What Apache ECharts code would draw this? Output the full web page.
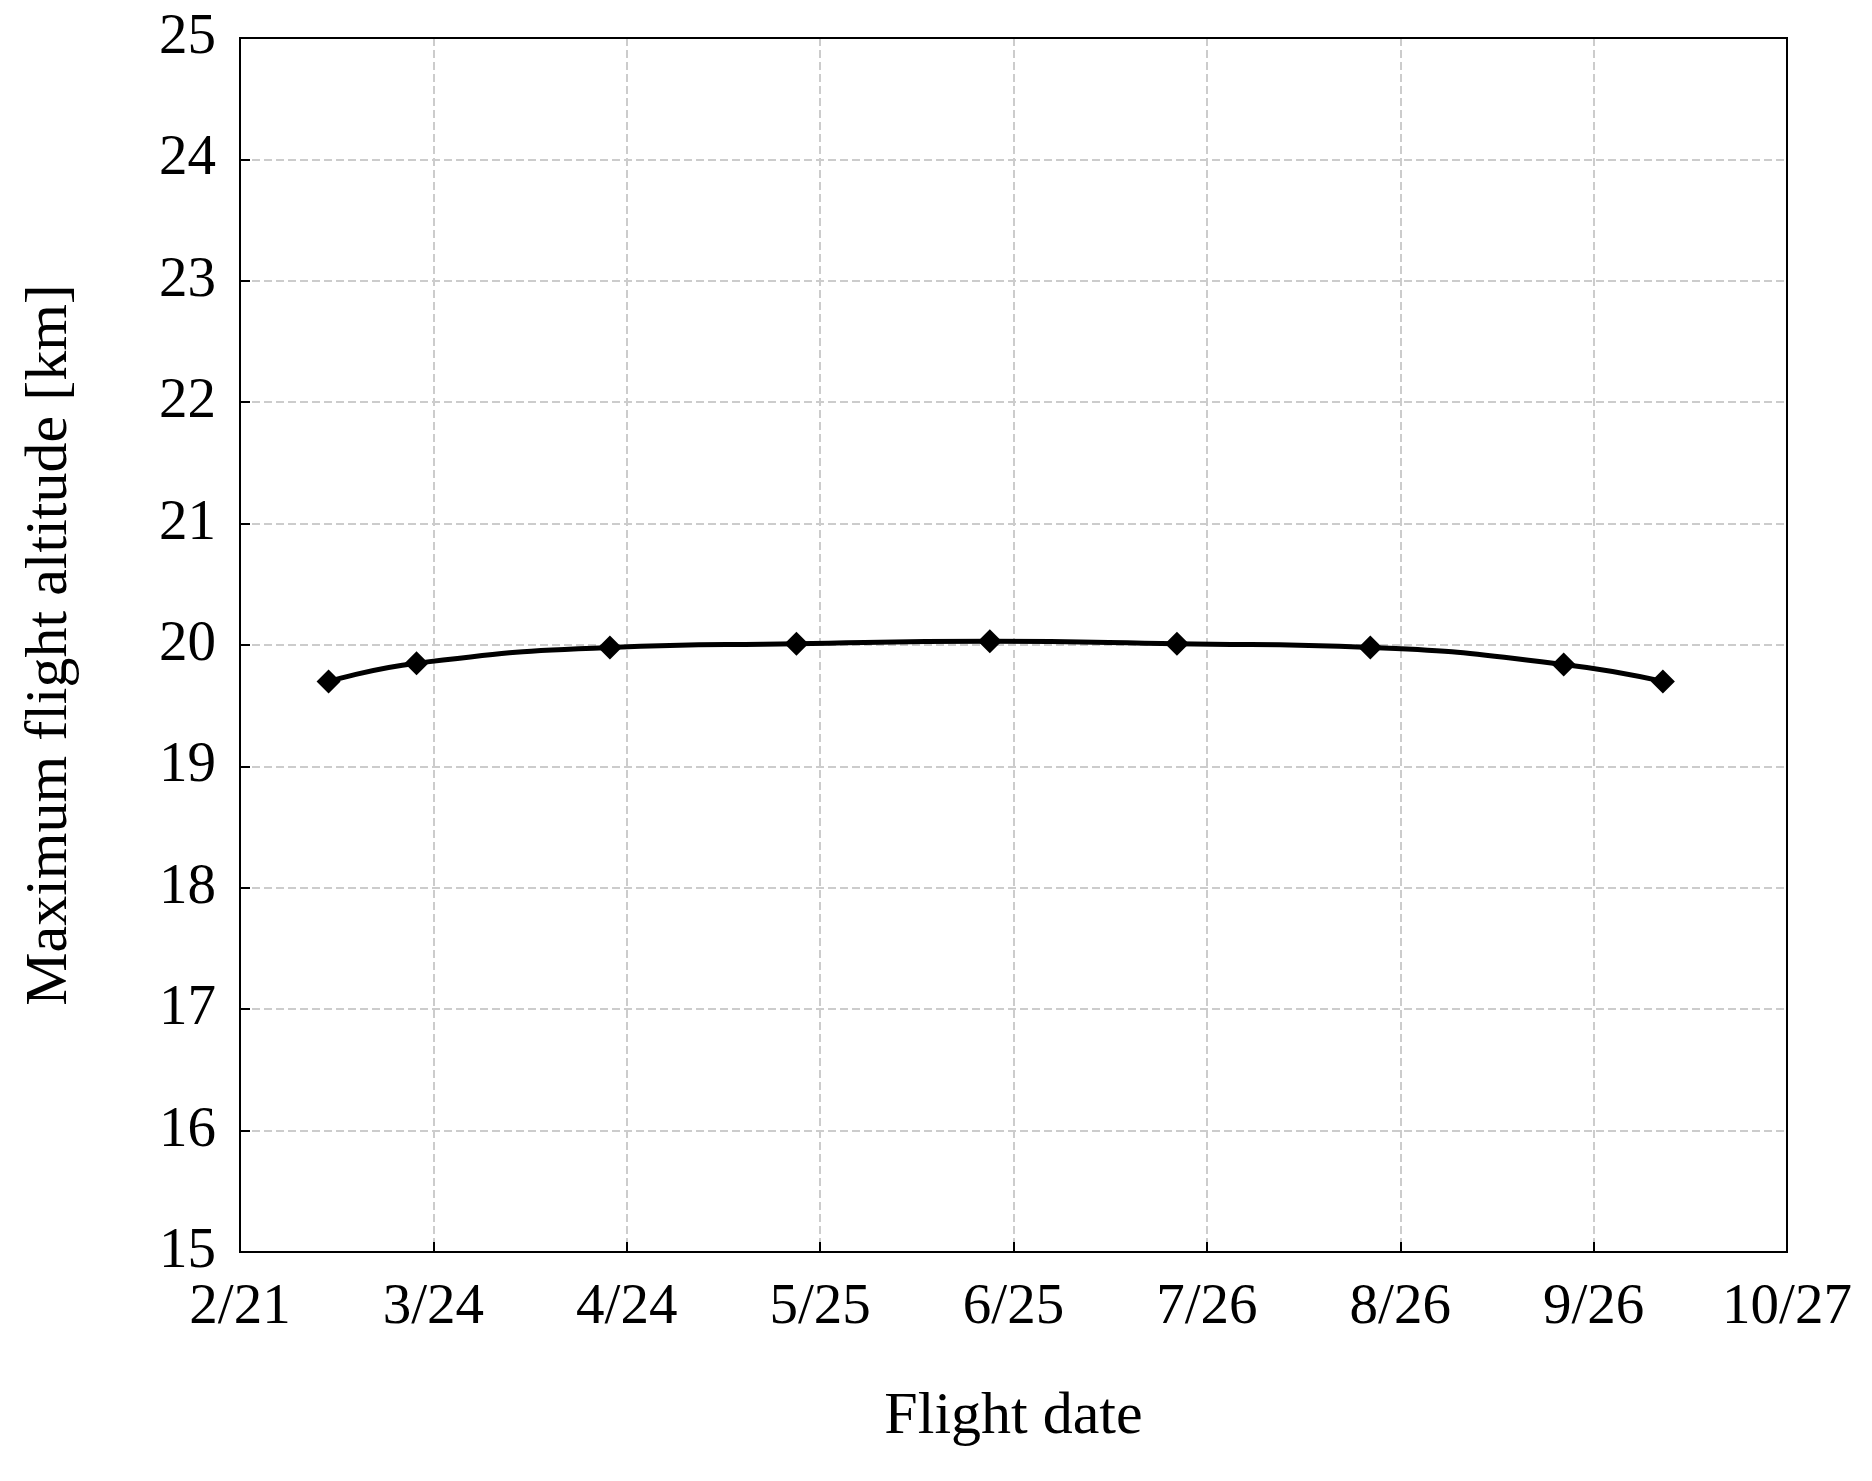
<!DOCTYPE html>
<html><head><meta charset="utf-8">
<script src="https://cdn.jsdelivr.net/npm/echarts@6/dist/echarts.min.js"></script>
<style>html,body{margin:0;padding:0;background:#fff}#c{width:1872px;height:1481px}</style>
</head><body><div id="c"></div>
<script>
// x values: days after 2/21
const xDays = [14.2, 28.3, 59.3, 89.2, 120.2, 150.2, 181.2, 212.2, 228.1];
const altitude = [19.7, 19.85, 19.98, 20.01, 20.03, 20.01, 19.98, 19.84, 19.7];
const xTickLabels = ['2/21','3/24','4/24','5/25','6/25','7/26','8/26','9/26','10/27'];
const font = 'Liberation Serif';
const chart = echarts.init(document.getElementById('c'));
chart.setOption({
  animation:false,
  grid:{left:240,right:85,top:38,bottom:229},
  xAxis:{type:'value',min:0,max:248,interval:31,name:'Flight date',nameLocation:'middle',nameGap:135,
    nameTextStyle:{fontFamily:font,fontSize:60,color:'#000'},
    axisLine:{show:true,lineStyle:{color:'#000',width:2}},
    axisTick:{show:true,inside:true,length:10,lineStyle:{color:'#000',width:2}},
    axisLabel:{fontFamily:font,fontSize:57,color:'#000',margin:28,formatter:v=>xTickLabels[Math.round(v/31)]},
    splitLine:{show:true,lineStyle:{color:'#ccc',type:'dashed',width:2}}},
  yAxis:{type:'value',min:15,max:25,interval:1,name:'Maximum flight altitude [km]',nameLocation:'middle',nameGap:160,
    nameTextStyle:{fontFamily:font,fontSize:60,color:'#000'},
    axisLine:{show:true,lineStyle:{color:'#000',width:2}},
    axisTick:{show:true,inside:true,length:10,lineStyle:{color:'#000',width:2}},
    axisLabel:{fontFamily:font,fontSize:57,color:'#000',margin:24},
    splitLine:{show:true,lineStyle:{color:'#ccc',type:'dashed',width:2}}},
  series:[{type:'line',smooth:true,data:xDays.map((d,i)=>[d,altitude[i]]),
    symbol:'diamond',symbolSize:24,itemStyle:{color:'#000'},lineStyle:{color:'#000',width:5}}]
});
chart.setOption({graphic:[{type:'rect',shape:{x:240,y:38,width:1872-240-85,height:1481-38-229},
  style:{fill:'none',stroke:'#000',lineWidth:2},z:100}]});
</script></body></html>
